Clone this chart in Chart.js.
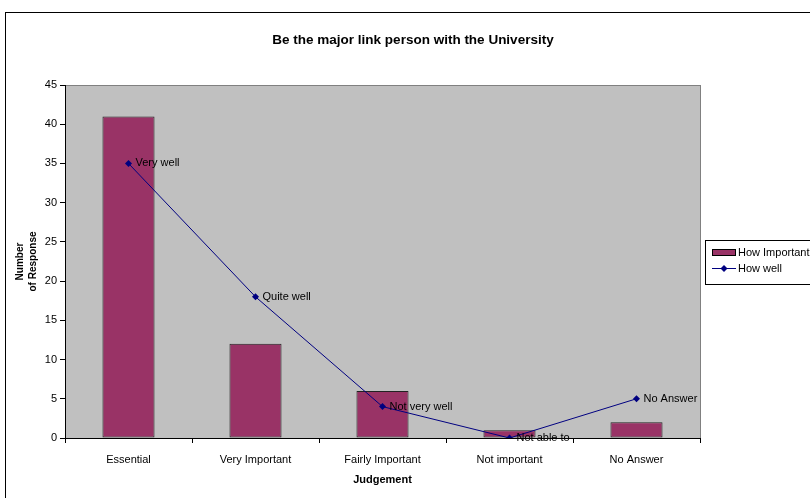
<!DOCTYPE html>
<html><head><meta charset="utf-8">
<script src="https://cdn.jsdelivr.net/npm/chart.js@4"></script>
<style>html,body{margin:0;padding:0;background:#fff}#wrap{width:810px;height:498px;position:relative}</style>
</head><body><div id="wrap"><canvas id="c" width="810" height="498"></canvas></div>
<script>
const chartTitle = 'Be the major link person with the University';
const categories = ['Essential', 'Very Important', 'Fairly Important', 'Not important', 'No Answer'];
const howImportant = [41, 12, 6, 1, 2];
const howWell = [35, 18, 4, 0, 5];
const howWellLabels = ['Very well', 'Quite well', 'Not very well', 'Not able to', 'No Answer'];
const seriesNames = ['How Important', 'How well'];
const yTitle = ['Number', 'of Response'];
const xTitle = 'Judgement';

const FONT = "'Liberation Sans', Arial, sans-serif";
Chart.defaults.font.family = FONT;
Chart.defaults.color = '#000';

const decor = {
  id: 'decor',
  beforeDraw(chart) {
    const ctx = chart.ctx, a = chart.chartArea;
    ctx.save();
    ctx.fillStyle = '#fff';
    ctx.fillRect(0, 0, chart.width, chart.height);
    ctx.strokeStyle = '#000';
    ctx.lineWidth = 1;
    ctx.strokeRect(5.5, 12.5, 820, 500);
    ctx.fillStyle = '#C0C0C0';
    ctx.fillRect(a.left, a.top, a.right - a.left, a.bottom - a.top);
    ctx.strokeStyle = '#808080';
    ctx.strokeRect(a.left + 0.5, a.top + 0.5, a.right - a.left, a.bottom - a.top);
    // title
    ctx.fillStyle = '#000';
    ctx.font = 'bold 13.5px ' + FONT;
    ctx.textAlign = 'center';
    ctx.textBaseline = 'middle';
    ctx.fillText(chartTitle, 413, 40);
    ctx.restore();
  },
  afterDatasetsDraw(chart) {
    const ctx = chart.ctx;
    ctx.save();
    const meta = chart.getDatasetMeta(1);
    ctx.font = '11px ' + FONT;
    ctx.fillStyle = '#000';
    ctx.textAlign = 'left';
    ctx.textBaseline = 'middle';
    meta.data.forEach((pt, i) => {
      ctx.fillText(howWellLabels[i], pt.x + 7, pt.y);
    });
    // legend
    const lx = 705.5, ly = 240.5;
    ctx.strokeStyle = '#000';
    ctx.lineWidth = 1;
    ctx.strokeRect(lx, ly, 120, 44);
    const ds0 = chart.data.datasets[0], ds1 = chart.data.datasets[1];
    ctx.fillStyle = ds0.backgroundColor;
    ctx.fillRect(712, 249, 23, 6);
    ctx.strokeRect(712.5, 249.5, 23, 6);
    ctx.fillStyle = '#000';
    ctx.fillText(ds0.label, 738, 252.5);
    ctx.strokeStyle = ds1.borderColor;
    ctx.beginPath(); ctx.moveTo(712, 268.5); ctx.lineTo(736, 268.5); ctx.stroke();
    ctx.fillStyle = ds1.borderColor;
    ctx.beginPath();
    ctx.moveTo(724, 265); ctx.lineTo(727.5, 268.5); ctx.lineTo(724, 272); ctx.lineTo(720.5, 268.5);
    ctx.closePath(); ctx.fill();
    ctx.fillStyle = '#000';
    ctx.fillText(ds1.label, 738, 268.5);
    ctx.restore();
  }
};

new Chart(document.getElementById('c'), {
  type: 'bar',
  data: {
    labels: categories,
    datasets: [
      {
        type: 'bar', label: seriesNames[0], data: howImportant, order: 1,
        backgroundColor: '#993366', borderColor: '#222', borderWidth: 1, borderSkipped: false,
        barPercentage: 0.41, categoryPercentage: 1
      },
      {
        type: 'line', label: seriesNames[1], data: howWell, order: 0,
        borderColor: '#000080', backgroundColor: '#000080', borderWidth: 1,
        pointStyle: 'rectRot', pointRadius: 3.5, pointBorderWidth: 0, tension: 0
      }
    ]
  },
  options: {
    responsive: false,
    animation: false,
    events: [],
    layout: { padding: { left: 8, right: 110, top: 85, bottom: 7 } },
    plugins: {
      legend: { display: false },
      tooltip: { enabled: false },
      title: { display: false }
    },
    scales: {
      x: {
        afterFit(s) { s.height = 53; },
        grid: { display: true, drawOnChartArea: false, tickLength: 5, color: '#000', offset: true },
        border: { color: '#000' },
        ticks: { padding: 10, font: { size: 11 }, color: '#000', maxRotation: 0 },
        title: { display: true, text: xTitle, font: { size: 11, weight: 'bold' }, color: '#000', padding: { top: 4, bottom: 4 } }
      },
      y: {
        min: 0, max: 45,
        afterFit(s) { s.width = 57; },
        grid: { display: true, drawOnChartArea: false, tickLength: 5, color: '#000' },
        border: { color: '#000' },
        ticks: { stepSize: 5, padding: 3, font: { size: 11 }, color: '#000' },
        title: { display: true, text: yTitle, font: { size: 10, weight: 'bold', lineHeight: 1.3 }, color: '#000', padding: { top: 6, bottom: 0 } }
      }
    }
  },
  plugins: [decor]
});
</script>
</body></html>
